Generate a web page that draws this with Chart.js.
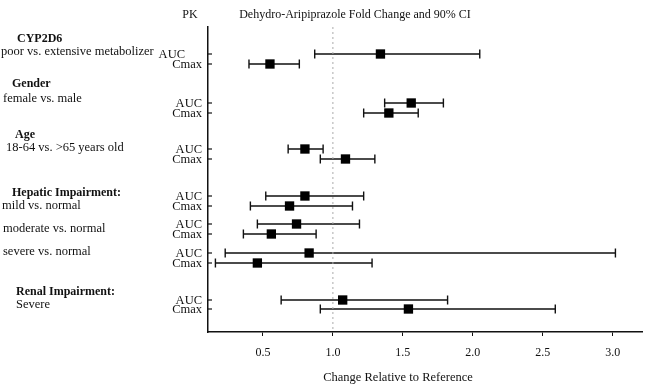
<!DOCTYPE html>
<html><head><meta charset="utf-8">
<script src="https://cdn.jsdelivr.net/npm/chart.js@4/dist/chart.umd.min.js"></script>
<style>html,body{margin:0;padding:0;background:#fff}#wrap{width:655px;height:390px}</style>
</head><body><div id="wrap"><canvas id="c"></canvas></div>
<script>
// ---- data ----
const rowLabels = ['AUC','Cmax','AUC','Cmax','AUC','Cmax','AUC','Cmax','AUC','Cmax','AUC','Cmax','AUC','Cmax'];
const rowSlots  = [0, 1, 4.9, 5.9, 9.5, 10.5, 14.2, 15.2, 17, 18, 19.9, 20.9, 24.6, 25.5];
const pointEst  = [1.34, 0.55, 1.56, 1.40, 0.80, 1.09, 0.80, 0.69, 0.74, 0.56, 0.83, 0.46, 1.07, 1.54];
const ciLow     = [0.87, 0.40, 1.37, 1.22, 0.68, 0.91, 0.52, 0.41, 0.46, 0.36, 0.23, 0.16, 0.63, 0.91];
const ciHigh    = [2.05, 0.76, 1.79, 1.61, 0.93, 1.30, 1.22, 1.14, 1.19, 0.88, 3.02, 1.28, 1.82, 2.59];
const groupTitles    = ['CYP2D6', 'Gender', 'Age', 'Hepatic Impairment:', 'Renal Impairment:'];
const groupSubtitles = ['poor vs. extensive metabolizer', 'female vs. male', '18-64 vs. >65 years old',
                        'mild vs. normal', 'moderate vs. normal', 'severe vs. normal', 'Severe'];
const xTicks = [0.5, 1.0, 1.5, 2.0, 2.5, 3.0];
const refValue = 1.0;
const headerLeft = 'PK';
const chartTitle = 'Dehydro-Aripiprazole Fold Change and 90% CI';
const xTitle = 'Change Relative to Reference';

// ---- layout/style ----
const FONT = "'Liberation Serif', 'Times New Roman', serif";
const INK = '#111';
const Y_MIN = -2.7, Y_MAX = 27.8;
const titleLayout = [ {x:17, s:-1.5}, {x:12, s:3.0}, {x:15, s:8.1}, {x:12, s:13.9}, {x:16, s:23.8} ];
const subLayout = [ {x:1, s:-0.2}, {x:3, s:4.5}, {x:6, s:9.4}, {x:2, s:15.2}, {x:3, s:17.5}, {x:3, s:19.8}, {x:16, s:25.1} ];
const rowLabelShift = [17,0,0,0,0,0,0,0,0,0,0,0,0,0];

const errorBars = {
  id: 'errorBars',
  beforeDatasetsDraw(chart) {
    const {ctx, scales:{x, y}} = chart;
    ctx.save();
    ctx.strokeStyle = INK; ctx.lineWidth = 1.4;
    rowSlots.forEach((s, i) => {
      const py = y.getPixelForValue(s);
      const x0 = x.getPixelForValue(ciLow[i]), x1 = x.getPixelForValue(ciHigh[i]);
      ctx.beginPath();
      ctx.moveTo(x0, py); ctx.lineTo(x1, py);
      ctx.moveTo(x0, py - 4.5); ctx.lineTo(x0, py + 4.5);
      ctx.moveTo(x1, py - 4.5); ctx.lineTo(x1, py + 4.5);
      ctx.stroke();
    });
    ctx.restore();
  },
  afterDraw(chart) {
    const {ctx, scales:{x, y}, chartArea} = chart;
    ctx.save();
    // inward y tick marks
    ctx.strokeStyle = INK; ctx.lineWidth = 1.2;
    rowSlots.forEach(s => {
      const py = y.getPixelForValue(s);
      ctx.beginPath(); ctx.moveTo(chartArea.left, py); ctx.lineTo(chartArea.left + 4, py); ctx.stroke();
    });
    ctx.fillStyle = INK;
    ctx.textBaseline = 'middle';
    // row labels
    ctx.font = '12.5px ' + FONT; ctx.textAlign = 'right';
    rowLabels.forEach((t, i) => {
      ctx.fillText(t, chartArea.left - 6 - rowLabelShift[i], y.getPixelForValue(rowSlots[i]) + 1);
    });
    // group titles
    ctx.textAlign = 'left';
    ctx.font = 'bold 12px ' + FONT;
    groupTitles.forEach((t, i) => ctx.fillText(t, titleLayout[i].x, y.getPixelForValue(titleLayout[i].s)));
    ctx.font = '12.5px ' + FONT;
    groupSubtitles.forEach((t, i) => ctx.fillText(t, subLayout[i].x, y.getPixelForValue(subLayout[i].s)));
    // header
    ctx.font = '12px ' + FONT;
    ctx.textAlign = 'center';
    ctx.fillText(headerLeft, 190, 15);
    ctx.fillText(chartTitle, 355, 15);
    ctx.font = '12.5px ' + FONT;
    ctx.fillText(xTitle, 398, 378);
    ctx.restore();
  }
};

new Chart(document.getElementById('c'), {
  type: 'scatter',
  data: {
    datasets: [
      {
        data: rowSlots.map((s, i) => ({x: pointEst[i], y: s})),
        pointStyle: 'rect', pointRadius: 6.6, backgroundColor: '#000', borderWidth: 0
      },
      {
        type: 'line',
        data: [{x: refValue, y: Y_MIN}, {x: refValue, y: Y_MAX}],
        borderColor: '#aaa', borderWidth: 1, borderDash: [2, 3], pointRadius: 0
      }
    ]
  },
  options: {
    responsive: true, maintainAspectRatio: false, animation: false, devicePixelRatio: 1,
    layout: { padding: { left: 0, top: 27, right: 13, bottom: 18 } },
    plugins: { legend: { display: false }, tooltip: { enabled: false } },
    scales: {
      x: {
        type: 'linear', min: 0.107, max: 3.21,
        afterBuildTicks: s => { s.ticks = xTicks.map(v => ({value: v})); },
        afterFit: s => { s.height = 40; },
        grid: { display: true, drawOnChartArea: false, drawTicks: true, tickLength: 4, color: INK, lineWidth: 1 },
        border: { display: true, color: INK, width: 1.5 },
        ticks: { color: INK, font: { family: FONT, size: 12 }, padding: 10, callback: v => Number(v).toFixed(1) }
      },
      y: {
        type: 'linear', reverse: true, min: Y_MIN, max: Y_MAX,
        afterFit: s => { s.width = 208; },
        grid: { display: false },
        border: { display: true, color: INK, width: 1.5 },
        ticks: { display: false }
      }
    }
  },
  plugins: [errorBars]
});
</script>
</body></html>
